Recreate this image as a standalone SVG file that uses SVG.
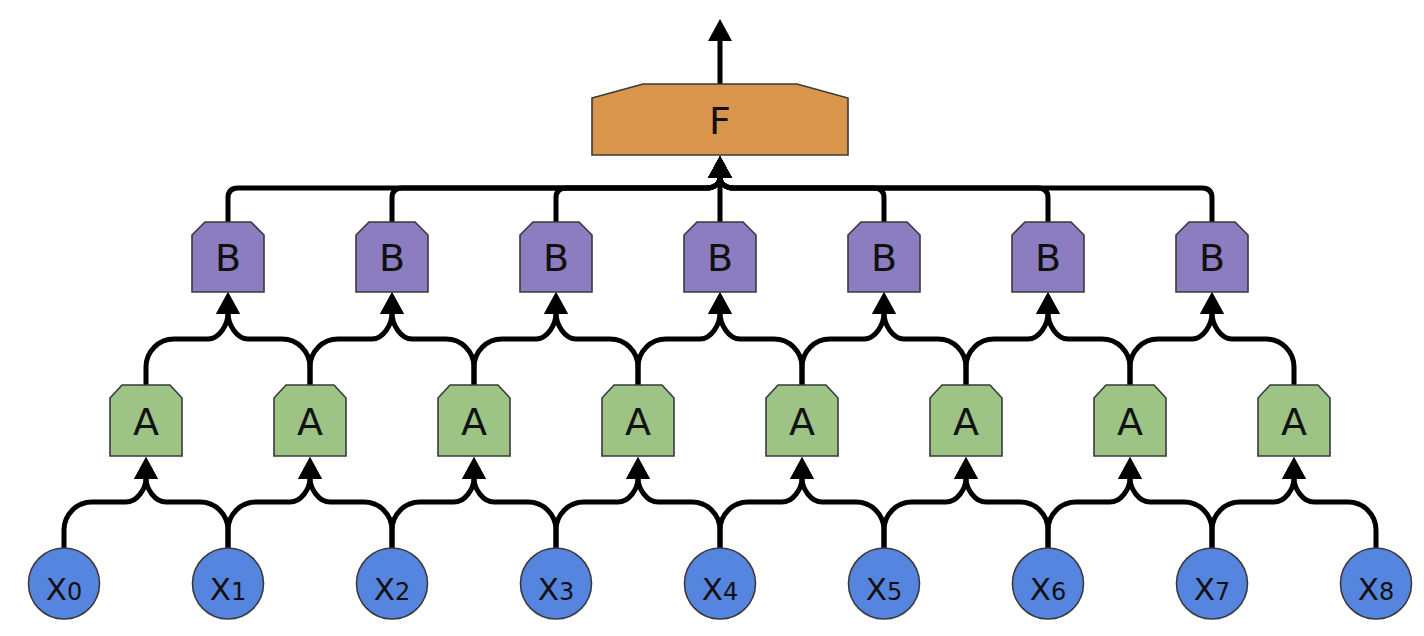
<svg xmlns="http://www.w3.org/2000/svg" width="1424" height="636" viewBox="0 0 1424 636">
  <defs>
    <marker id="ah" markerUnits="userSpaceOnUse" markerWidth="24" markerHeight="24" viewBox="0 0 22 24" refX="1" refY="12" orient="auto">
      <path d="M0 0 L22 12 L0 24 Z" fill="#000"/>
    </marker>
    <!-- chamfered box shapes, centred on the origin -->
    <polygon id="boxA" points="-24,-35.5 24,-35.5 36,-22.5 36,35.5 -36,35.5 -36,-22.5"/>
    <polygon id="boxB" points="-23,-35 23,-35 36,-22 36,35 -36,35 -36,-22"/>
  </defs>
  <style>
    .wire { fill: none; stroke: #000; stroke-width: 5; marker-end: url(#ah); }
    .x { fill: #5685e0; stroke: #3a3a3a; stroke-width: 1.6; }
    .a { fill: #9dc485; stroke: #3a3a3a; stroke-width: 1.6; }
    .b { fill: #8b7dbf; stroke: #3a3a3a; stroke-width: 1.6; }
    .f { fill: #d9954c; stroke: #3a3a3a; stroke-width: 1.6; }
    text { font-family: "DejaVu Sans", "Liberation Sans", sans-serif; fill: #111; text-anchor: middle; }
    .lbl { font-size: 38px; }
    .xl { font-size: 31px; }
    .sub { font-size: 24px; }
  </style>

  <rect width="1424" height="636" fill="#fff"/>

  <g id="connectors">
    <!-- inputs to A layer -->
    <path class="wire" d="M64 550 v-20 c0-15.5 12.5-28 28-28 h34 c11 0 20-13 20-24"/>
    <path class="wire" d="M228 550 v-20 c0-15.5-12.5-28-28-28 h-34 c-11 0-20-13-20-24"/>
    <path class="wire" d="M228 550 v-20 c0-15.5 12.5-28 28-28 h34 c11 0 20-13 20-24"/>
    <path class="wire" d="M392 550 v-20 c0-15.5-12.5-28-28-28 h-34 c-11 0-20-13-20-24"/>
    <path class="wire" d="M392 550 v-20 c0-15.5 12.5-28 28-28 h34 c11 0 20-13 20-24"/>
    <path class="wire" d="M556 550 v-20 c0-15.5-12.5-28-28-28 h-34 c-11 0-20-13-20-24"/>
    <path class="wire" d="M556 550 v-20 c0-15.5 12.5-28 28-28 h34 c11 0 20-13 20-24"/>
    <path class="wire" d="M720 550 v-20 c0-15.5-12.5-28-28-28 h-34 c-11 0-20-13-20-24"/>
    <path class="wire" d="M720 550 v-20 c0-15.5 12.5-28 28-28 h34 c11 0 20-13 20-24"/>
    <path class="wire" d="M884 550 v-20 c0-15.5-12.5-28-28-28 h-34 c-11 0-20-13-20-24"/>
    <path class="wire" d="M884 550 v-20 c0-15.5 12.5-28 28-28 h34 c11 0 20-13 20-24"/>
    <path class="wire" d="M1048 550 v-20 c0-15.5-12.5-28-28-28 h-34 c-11 0-20-13-20-24"/>
    <path class="wire" d="M1048 550 v-20 c0-15.5 12.5-28 28-28 h34 c11 0 20-13 20-24"/>
    <path class="wire" d="M1212 550 v-20 c0-15.5-12.5-28-28-28 h-34 c-11 0-20-13-20-24"/>
    <path class="wire" d="M1212 550 v-20 c0-15.5 12.5-28 28-28 h34 c11 0 20-13 20-24"/>
    <path class="wire" d="M1376 550 v-20 c0-15.5-12.5-28-28-28 h-34 c-11 0-20-13-20-24"/>

    <!-- A layer to B layer -->
    <path class="wire" d="M146 387 v-20 c0-15.5 12.5-28 28-28 h34 c11 0 20-14 20-26"/>
    <path class="wire" d="M310 387 v-20 c0-15.5-12.5-28-28-28 h-34 c-11 0-20-14-20-26"/>
    <path class="wire" d="M310 387 v-20 c0-15.5 12.5-28 28-28 h34 c11 0 20-14 20-26"/>
    <path class="wire" d="M474 387 v-20 c0-15.5-12.5-28-28-28 h-34 c-11 0-20-14-20-26"/>
    <path class="wire" d="M474 387 v-20 c0-15.5 12.5-28 28-28 h34 c11 0 20-14 20-26"/>
    <path class="wire" d="M638 387 v-20 c0-15.5-12.5-28-28-28 h-34 c-11 0-20-14-20-26"/>
    <path class="wire" d="M638 387 v-20 c0-15.5 12.5-28 28-28 h34 c11 0 20-14 20-26"/>
    <path class="wire" d="M802 387 v-20 c0-15.5-12.5-28-28-28 h-34 c-11 0-20-14-20-26"/>
    <path class="wire" d="M802 387 v-20 c0-15.5 12.5-28 28-28 h34 c11 0 20-14 20-26"/>
    <path class="wire" d="M966 387 v-20 c0-15.5-12.5-28-28-28 h-34 c-11 0-20-14-20-26"/>
    <path class="wire" d="M966 387 v-20 c0-15.5 12.5-28 28-28 h34 c11 0 20-14 20-26"/>
    <path class="wire" d="M1130 387 v-20 c0-15.5-12.5-28-28-28 h-34 c-11 0-20-14-20-26"/>
    <path class="wire" d="M1130 387 v-20 c0-15.5 12.5-28 28-28 h34 c11 0 20-14 20-26"/>
    <path class="wire" d="M1294 387 v-20 c0-15.5-12.5-28-28-28 h-34 c-11 0-20-14-20-26"/>

    <!-- B layer gathered on a bus into F -->
    <path class="wire" d="M228 224 V198 Q228 188 238 188 H706 C714 188 720 184 720 177"/>
    <path class="wire" d="M392 224 V198 Q392 188 402 188 H706 C714 188 720 184 720 177"/>
    <path class="wire" d="M556 224 V198 Q556 188 566 188 H706 C714 188 720 184 720 177"/>
    <path class="wire" d="M720 224 V177"/>
    <path class="wire" d="M884 224 V198 Q884 188 874 188 H734 C726 188 720 184 720 177"/>
    <path class="wire" d="M1048 224 V198 Q1048 188 1038 188 H734 C726 188 720 184 720 177"/>
    <path class="wire" d="M1212 224 V198 Q1212 188 1202 188 H734 C726 188 720 184 720 177"/>

    <!-- output -->
    <path class="wire" d="M720 86 V40"/>
  </g>

  <g id="node-F">
    <polygon class="f" points="592,98 643,84 797,84 848,98 848,155 592,155"/>
    <text class="lbl" x="720" y="134">F</text>
  </g>

  <g id="node-B0"><use href="#boxB" class="b" x="228" y="257"/><text class="lbl" x="228" y="271">B</text></g>
  <g id="node-B1"><use href="#boxB" class="b" x="392" y="257"/><text class="lbl" x="392" y="271">B</text></g>
  <g id="node-B2"><use href="#boxB" class="b" x="556" y="257"/><text class="lbl" x="556" y="271">B</text></g>
  <g id="node-B3"><use href="#boxB" class="b" x="720" y="257"/><text class="lbl" x="720" y="271">B</text></g>
  <g id="node-B4"><use href="#boxB" class="b" x="884" y="257"/><text class="lbl" x="884" y="271">B</text></g>
  <g id="node-B5"><use href="#boxB" class="b" x="1048" y="257"/><text class="lbl" x="1048" y="271">B</text></g>
  <g id="node-B6"><use href="#boxB" class="b" x="1212" y="257"/><text class="lbl" x="1212" y="271">B</text></g>

  <g id="node-A0"><use href="#boxA" class="a" x="146" y="420.5"/><text class="lbl" x="146" y="435">A</text></g>
  <g id="node-A1"><use href="#boxA" class="a" x="310" y="420.5"/><text class="lbl" x="310" y="435">A</text></g>
  <g id="node-A2"><use href="#boxA" class="a" x="474" y="420.5"/><text class="lbl" x="474" y="435">A</text></g>
  <g id="node-A3"><use href="#boxA" class="a" x="638" y="420.5"/><text class="lbl" x="638" y="435">A</text></g>
  <g id="node-A4"><use href="#boxA" class="a" x="802" y="420.5"/><text class="lbl" x="802" y="435">A</text></g>
  <g id="node-A5"><use href="#boxA" class="a" x="966" y="420.5"/><text class="lbl" x="966" y="435">A</text></g>
  <g id="node-A6"><use href="#boxA" class="a" x="1130" y="420.5"/><text class="lbl" x="1130" y="435">A</text></g>
  <g id="node-A7"><use href="#boxA" class="a" x="1294" y="420.5"/><text class="lbl" x="1294" y="435">A</text></g>

  <g id="node-x0"><circle class="x" cx="64" cy="583.5" r="35.5"/><text class="xl" x="64" y="600">X<tspan class="sub">0</tspan></text></g>
  <g id="node-x1"><circle class="x" cx="228" cy="583.5" r="35.5"/><text class="xl" x="228" y="600">X<tspan class="sub">1</tspan></text></g>
  <g id="node-x2"><circle class="x" cx="392" cy="583.5" r="35.5"/><text class="xl" x="392" y="600">X<tspan class="sub">2</tspan></text></g>
  <g id="node-x3"><circle class="x" cx="556" cy="583.5" r="35.5"/><text class="xl" x="556" y="600">X<tspan class="sub">3</tspan></text></g>
  <g id="node-x4"><circle class="x" cx="720" cy="583.5" r="35.5"/><text class="xl" x="720" y="600">X<tspan class="sub">4</tspan></text></g>
  <g id="node-x5"><circle class="x" cx="884" cy="583.5" r="35.5"/><text class="xl" x="884" y="600">X<tspan class="sub">5</tspan></text></g>
  <g id="node-x6"><circle class="x" cx="1048" cy="583.5" r="35.5"/><text class="xl" x="1048" y="600">X<tspan class="sub">6</tspan></text></g>
  <g id="node-x7"><circle class="x" cx="1212" cy="583.5" r="35.5"/><text class="xl" x="1212" y="600">X<tspan class="sub">7</tspan></text></g>
  <g id="node-x8"><circle class="x" cx="1376" cy="583.5" r="35.5"/><text class="xl" x="1376" y="600">X<tspan class="sub">8</tspan></text></g>
</svg>
